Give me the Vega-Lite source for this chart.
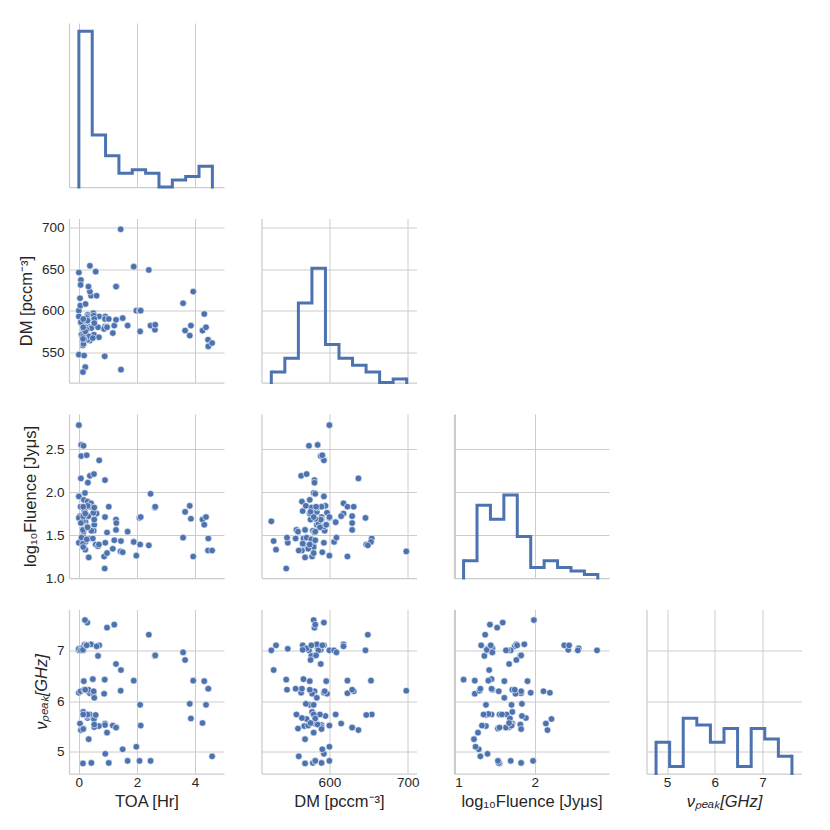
{
  "$schema": "https://vega.github.io/schema/vega-lite/v6.json",
  "padding": {"left": 18, "top": 20, "right": 5, "bottom": 5},
  "background": "#ffffff",
  "config": {
    "view": {"stroke": null},
    "font": "Liberation Sans",
    "axis": {
      "grid": true, "gridColor": "#cccccc", "gridWidth": 1,
      "domainColor": "#cccccc", "domainWidth": 1.25, "ticks": false,
      "labelColor": "#262626", "labelFontSize": 13.5, "labelPadding": 5,
      "titleColor": "#262626", "titleFontSize": 16.5, "titleFontWeight": "normal", "titlePadding": 5
    },
    "axisX": {"labelPadding": 2, "titlePadding": 4},
    "axisY": {"titlePadding": 7}
  },
  "datasets": {
    "frb": [
      {"TOA": 0, "DM": 600, "Fluence": 2.78, "nu": 7.01},
      {"TOA": 0.08, "DM": 585, "Fluence": 2.55, "nu": 7.05},
      {"TOA": 0.16, "DM": 574, "Fluence": 2.54, "nu": 7.01},
      {"TOA": 0.08, "DM": 589, "Fluence": 2.42, "nu": 7.02},
      {"TOA": 0.70, "DM": 593, "Fluence": 2.37, "nu": 7.11},
      {"TOA": 0.07, "DM": 637, "Fluence": 2.16, "nu": 5.43},
      {"TOA": 0.38, "DM": 564, "Fluence": 2.19, "nu": 6.17},
      {"TOA": 0.52, "DM": 571, "Fluence": 2.21, "nu": 5.65},
      {"TOA": 0.90, "DM": 581, "Fluence": 2.14, "nu": 5.56},
      {"TOA": 0.31, "DM": 581, "Fluence": 2.11, "nu": 6.20},
      {"TOA": 0, "DM": 593, "Fluence": 1.95, "nu": 6.17},
      {"TOA": 0.17, "DM": 575, "Fluence": 1.91, "nu": 6.40},
      {"TOA": 0.30, "DM": 565, "Fluence": 1.89, "nu": 5.67},
      {"TOA": 0.42, "DM": 618, "Fluence": 1.87, "nu": 7.13},
      {"TOA": 0.38, "DM": 623, "Fluence": 1.83, "nu": 6.16},
      {"TOA": 0.06, "DM": 631, "Fluence": 1.83, "nu": 6.20},
      {"TOA": 0.33, "DM": 629, "Fluence": 1.72, "nu": 6.23},
      {"TOA": 0.61, "DM": 618, "Fluence": 1.75, "nu": 7.09},
      {"TOA": 0.04, "DM": 615, "Fluence": 1.72, "nu": 5.56},
      {"TOA": 0.05, "DM": 606, "Fluence": 1.42, "nu": 7.01},
      {"TOA": 0.23, "DM": 608, "Fluence": 1.65, "nu": 5.74},
      {"TOA": 0.50, "DM": 597, "Fluence": 1.76, "nu": 6.15},
      {"TOA": 0.30, "DM": 595, "Fluence": 1.84, "nu": 5.71},
      {"TOA": 0.91, "DM": 593, "Fluence": 1.41, "nu": 4.96},
      {"TOA": 0.90, "DM": 590, "Fluence": 1.71, "nu": 5.53},
      {"TOA": 0.87, "DM": 578, "Fluence": 1.25, "nu": 6.15},
      {"TOA": 0.89, "DM": 545, "Fluence": 1.11, "nu": 6.43},
      {"TOA": 0, "DM": 646, "Fluence": 1.70, "nu": 7.01},
      {"TOA": 0.38, "DM": 654, "Fluence": 1.46, "nu": 5.74},
      {"TOA": 0.58, "DM": 647, "Fluence": 1.39, "nu": 5.73},
      {"TOA": 0.53, "DM": 584, "Fluence": 1.62, "nu": 6.07},
      {"TOA": 0.20, "DM": 584, "Fluence": 1.77, "nu": 7.13},
      {"TOA": 0.66, "DM": 580, "Fluence": 1.37, "nu": 6.90},
      {"TOA": 0.34, "DM": 569, "Fluence": 1.24, "nu": 5.25},
      {"TOA": 0.69, "DM": 568, "Fluence": 1.39, "nu": 5.51},
      {"TOA": 0, "DM": 547, "Fluence": 1.41, "nu": 7.04},
      {"TOA": 0.18, "DM": 546, "Fluence": 1.47, "nu": 6.23},
      {"TOA": 0.22, "DM": 532, "Fluence": 1.33, "nu": 7.11},
      {"TOA": 0.14, "DM": 526, "Fluence": 1.66, "nu": 7.01},
      {"TOA": 0.14, "DM": 558, "Fluence": 1.56, "nu": 5.74},
      {"TOA": 0.16, "DM": 560, "Fluence": 1.54, "nu": 5.46},
      {"TOA": 0.19, "DM": 566, "Fluence": 1.78, "nu": 7.11},
      {"TOA": 0.48, "DM": 567, "Fluence": 1.46, "nu": 6.44},
      {"TOA": 0.09, "DM": 571, "Fluence": 1.47, "nu": 7.05},
      {"TOA": 0.14, "DM": 569, "Fluence": 1.56, "nu": 4.77},
      {"TOA": 0.51, "DM": 594, "Fluence": 1.55, "nu": 6.20},
      {"TOA": 0.29, "DM": 593, "Fluence": 1.60, "nu": 7.56},
      {"TOA": 0.53, "DM": 590, "Fluence": 1.68, "nu": 5.49},
      {"TOA": 0.07, "DM": 586, "Fluence": 1.64, "nu": 7.01},
      {"TOA": 0.21, "DM": 580, "Fluence": 1.99, "nu": 7.61},
      {"TOA": 0.23, "DM": 580, "Fluence": 1.42, "nu": 5.75},
      {"TOA": 0.14, "DM": 566, "Fluence": 1.40, "nu": 7.02},
      {"TOA": 0.43, "DM": 579, "Fluence": 1.55, "nu": 4.78},
      {"TOA": 0.27, "DM": 591, "Fluence": 2.43, "nu": 7.11},
      {"TOA": 0.15, "DM": 578, "Fluence": 1.72, "nu": 5.79},
      {"TOA": 0.30, "DM": 588, "Fluence": 1.59, "nu": 5.74},
      {"TOA": 0.53, "DM": 585, "Fluence": 1.82, "nu": 5.54},
      {"TOA": 0.15, "DM": 590, "Fluence": 1.83, "nu": 5.45},
      {"TOA": 0.27, "DM": 577, "Fluence": 1.45, "nu": 7.11},
      {"TOA": 0.22, "DM": 575, "Fluence": 1.75, "nu": 6.23},
      {"TOA": 0.15, "DM": 580, "Fluence": 1.36, "nu": 5.74},
      {"TOA": 0.97, "DM": 581, "Fluence": 1.53, "nu": 7.46},
      {"TOA": 0.97, "DM": 580, "Fluence": 1.29, "nu": 5.38},
      {"TOA": 1.03, "DM": 590, "Fluence": 1.83, "nu": 4.78},
      {"TOA": 1.17, "DM": 573, "Fluence": 1.34, "nu": 5.52},
      {"TOA": 1.22, "DM": 582, "Fluence": 1.44, "nu": 7.52},
      {"TOA": 1.28, "DM": 589, "Fluence": 1.68, "nu": 6.74},
      {"TOA": 1.29, "DM": 629, "Fluence": 1.64, "nu": 5.48},
      {"TOA": 1.28, "DM": 629, "Fluence": 1.56, "nu": 5.48},
      {"TOA": 1.44, "DM": 698, "Fluence": 1.31, "nu": 6.21},
      {"TOA": 1.45, "DM": 529, "Fluence": 1.43, "nu": 6.62},
      {"TOA": 1.51, "DM": 591, "Fluence": 1.30, "nu": 5.05},
      {"TOA": 1.68, "DM": 582, "Fluence": 1.54, "nu": 4.82},
      {"TOA": 1.89, "DM": 653, "Fluence": 1.42, "nu": 6.41},
      {"TOA": 1.98, "DM": 600, "Fluence": 1.26, "nu": 5.10},
      {"TOA": 2.09, "DM": 600, "Fluence": 1.70, "nu": 4.82},
      {"TOA": 2.11, "DM": 575, "Fluence": 1.39, "nu": 5.93},
      {"TOA": 2.13, "DM": 600, "Fluence": 1.71, "nu": 5.52},
      {"TOA": 2.41, "DM": 649, "Fluence": 1.38, "nu": 7.32},
      {"TOA": 2.47, "DM": 582, "Fluence": 1.98, "nu": 4.82},
      {"TOA": 2.62, "DM": 577, "Fluence": 1.82, "nu": 6.90},
      {"TOA": 2.63, "DM": 583, "Fluence": 1.83, "nu": 6.91},
      {"TOA": 3.59, "DM": 609, "Fluence": 1.47, "nu": 6.97},
      {"TOA": 3.66, "DM": 576, "Fluence": 1.77, "nu": 6.82},
      {"TOA": 3.82, "DM": 570, "Fluence": 1.84, "nu": 5.95},
      {"TOA": 3.86, "DM": 582, "Fluence": 1.69, "nu": 5.66},
      {"TOA": 3.94, "DM": 623, "Fluence": 1.25, "nu": 6.41},
      {"TOA": 4.26, "DM": 576, "Fluence": 1.68, "nu": 5.57},
      {"TOA": 4.32, "DM": 596, "Fluence": 1.62, "nu": 6.40},
      {"TOA": 4.38, "DM": 580, "Fluence": 1.71, "nu": 5.93},
      {"TOA": 4.45, "DM": 565, "Fluence": 1.32, "nu": 6.25},
      {"TOA": 4.46, "DM": 557, "Fluence": 1.46, "nu": 6.25},
      {"TOA": 4.59, "DM": 561, "Fluence": 1.32, "nu": 4.91}
    ],
    "hist": [
      {"var": "TOA", "lo": 0, "hi": 0.46, "n": 45},
      {"var": "TOA", "lo": 0.46, "hi": 0.92, "n": 15},
      {"var": "TOA", "lo": 0.92, "hi": 1.38, "n": 9},
      {"var": "TOA", "lo": 1.38, "hi": 1.84, "n": 4},
      {"var": "TOA", "lo": 1.84, "hi": 2.3, "n": 5},
      {"var": "TOA", "lo": 2.3, "hi": 2.76, "n": 4},
      {"var": "TOA", "lo": 2.76, "hi": 3.22, "n": 0},
      {"var": "TOA", "lo": 3.22, "hi": 3.68, "n": 2},
      {"var": "TOA", "lo": 3.68, "hi": 4.14, "n": 3},
      {"var": "TOA", "lo": 4.14, "hi": 4.6, "n": 6},
      {"var": "DM", "lo": 526, "hi": 543.25, "n": 3},
      {"var": "DM", "lo": 543.25, "hi": 560.5, "n": 7},
      {"var": "DM", "lo": 560.5, "hi": 577.75, "n": 23},
      {"var": "DM", "lo": 577.75, "hi": 595, "n": 33},
      {"var": "DM", "lo": 595, "hi": 612.25, "n": 11},
      {"var": "DM", "lo": 612.25, "hi": 629.5, "n": 7},
      {"var": "DM", "lo": 629.5, "hi": 646.75, "n": 5},
      {"var": "DM", "lo": 646.75, "hi": 664, "n": 3},
      {"var": "DM", "lo": 664, "hi": 681.25, "n": 0},
      {"var": "DM", "lo": 681.25, "hi": 698.5, "n": 1},
      {"var": "Fluence", "lo": 1.11, "hi": 1.278, "n": 5},
      {"var": "Fluence", "lo": 1.278, "hi": 1.446, "n": 21},
      {"var": "Fluence", "lo": 1.446, "hi": 1.614, "n": 17},
      {"var": "Fluence", "lo": 1.614, "hi": 1.782, "n": 24},
      {"var": "Fluence", "lo": 1.782, "hi": 1.95, "n": 12},
      {"var": "Fluence", "lo": 1.95, "hi": 2.118, "n": 3},
      {"var": "Fluence", "lo": 2.118, "hi": 2.286, "n": 5},
      {"var": "Fluence", "lo": 2.286, "hi": 2.454, "n": 3},
      {"var": "Fluence", "lo": 2.454, "hi": 2.622, "n": 2},
      {"var": "Fluence", "lo": 2.622, "hi": 2.79, "n": 1},
      {"var": "nu", "lo": 4.77, "hi": 5.055, "n": 9},
      {"var": "nu", "lo": 5.055, "hi": 5.34, "n": 2},
      {"var": "nu", "lo": 5.34, "hi": 5.625, "n": 16},
      {"var": "nu", "lo": 5.625, "hi": 5.91, "n": 14},
      {"var": "nu", "lo": 5.91, "hi": 6.195, "n": 9},
      {"var": "nu", "lo": 6.195, "hi": 6.48, "n": 13},
      {"var": "nu", "lo": 6.48, "hi": 6.765, "n": 2},
      {"var": "nu", "lo": 6.765, "hi": 7.05, "n": 13},
      {"var": "nu", "lo": 7.05, "hi": 7.335, "n": 10},
      {"var": "nu", "lo": 7.335, "hi": 7.62, "n": 5}
    ]
  },
  "columns": 4,
  "bounds": "flush",
  "spacing": {"row": 31.5, "column": 37.5},
  "concat": [
    {
      "width": 155, "height": 164,
      "layer": [
        {
          "data": {"name": "hist"},
          "transform": [{"filter": {"field": "var", "equal": "TOA"}}, {"fold": ["lo", "hi"], "as": ["edge", "x"]}],
          "mark": {"type": "line", "color": "#4c72b0", "strokeWidth": 3, "strokeJoin": "miter"},
          "encoding": {
            "x": {"field": "x", "type": "quantitative", "scale": {"domain": [-0.34, 5.0], "nice": false, "zero": false}, "axis": {"values": [0, 2, 4], "labels": false, "title": null}},
            "y": {"field": "n", "type": "quantitative", "scale": {"domain": [0, 47.4], "nice": false}, "axis": {"labels": false, "grid": false, "title": null}},
            "order": [{"field": "x", "type": "quantitative"}, {"field": "edge", "type": "nominal"}]
          }
        },
        {
          "data": {"name": "hist"},
          "transform": [{"filter": {"field": "var", "equal": "TOA"}}, {"filter": {"field": "lo", "equal": 0}}],
          "mark": {"type": "rule", "color": "#4c72b0", "strokeWidth": 3, "strokeCap": "square"},
          "encoding": {
            "x": {"field": "lo", "type": "quantitative", "scale": {"domain": [-0.34, 5.0], "nice": false, "zero": false}, "axis": {"values": [0, 2, 4], "labels": false, "title": null}},
            "y": {"field": "n", "type": "quantitative", "scale": {"domain": [0, 47.4], "nice": false}, "axis": {"labels": false, "grid": false, "title": null}},
            "y2": {"datum": 0}
          }
        },
        {
          "data": {"name": "hist"},
          "transform": [{"filter": {"field": "var", "equal": "TOA"}}, {"filter": {"field": "hi", "equal": 4.6}}],
          "mark": {"type": "rule", "color": "#4c72b0", "strokeWidth": 3, "strokeCap": "square"},
          "encoding": {
            "x": {"field": "hi", "type": "quantitative", "scale": {"domain": [-0.34, 5.0], "nice": false, "zero": false}, "axis": {"values": [0, 2, 4], "labels": false, "title": null}},
            "y": {"field": "n", "type": "quantitative", "scale": {"domain": [0, 47.4], "nice": false}, "axis": {"labels": false, "grid": false, "title": null}},
            "y2": {"datum": 0}
          }
        }
      ]
    },
    {"width": 155, "height": 164, "data": {"name": "frb"}, "mark": {"type": "point", "opacity": 0}, "encoding": {"x": {"field": "TOA", "type": "quantitative", "axis": null}, "y": {"field": "DM", "type": "quantitative", "axis": null}}},
    {"width": 155, "height": 164, "data": {"name": "frb"}, "mark": {"type": "point", "opacity": 0}, "encoding": {"x": {"field": "TOA", "type": "quantitative", "axis": null}, "y": {"field": "DM", "type": "quantitative", "axis": null}}},
    {"width": 155, "height": 164, "data": {"name": "frb"}, "mark": {"type": "point", "opacity": 0}, "encoding": {"x": {"field": "TOA", "type": "quantitative", "axis": null}, "y": {"field": "DM", "type": "quantitative", "axis": null}}},

    {
      "width": 155, "height": 164, "data": {"name": "frb"},
      "mark": {"type": "circle", "size": 44, "color": "#4c72b0", "opacity": 1, "stroke": "#ffffff", "strokeWidth": 0.6},
      "encoding": {
        "x": {"field": "TOA", "type": "quantitative", "scale": {"domain": [-0.34, 5.0], "nice": false, "zero": false}, "axis": {"values": [0, 2, 4], "labels": false, "title": null}},
        "y": {"field": "DM", "type": "quantitative", "scale": {"domain": [513.5, 711], "nice": false, "zero": false}, "axis": {"values": [550, 600, 650, 700], "title": "DM [pccm⁻³]"}}
      }
    },
    {
      "width": 155, "height": 164,
      "layer": [
        {
          "data": {"name": "frb"},
          "mark": {"type": "point", "opacity": 0},
          "encoding": {
            "x": {"field": "DM", "type": "quantitative", "scale": {"domain": [513.5, 711], "nice": false, "zero": false}, "axis": {"values": [600, 700], "labels": false, "title": null}},
            "y": {"field": "DM", "type": "quantitative", "scale": {"domain": [513.5, 711], "nice": false, "zero": false}, "axis": {"values": [550, 600, 650, 700], "labels": false, "title": null}}
          }
        },
        {
          "data": {"name": "hist"},
          "transform": [{"filter": {"field": "var", "equal": "DM"}}, {"fold": ["lo", "hi"], "as": ["edge", "x"]}],
          "mark": {"type": "line", "color": "#4c72b0", "strokeWidth": 3, "strokeJoin": "miter"},
          "encoding": {
            "x": {"field": "x", "type": "quantitative", "scale": {"domain": [513.5, 711], "nice": false, "zero": false}, "axis": {"values": [600, 700], "labels": false, "title": null}},
            "y": {"field": "n", "type": "quantitative", "scale": {"domain": [0, 47.4], "nice": false}, "axis": null},
            "order": [{"field": "x", "type": "quantitative"}, {"field": "edge", "type": "nominal"}]
          }
        },
        {
          "data": {"name": "hist"},
          "transform": [{"filter": {"field": "var", "equal": "DM"}}, {"filter": {"field": "lo", "equal": 526}}],
          "mark": {"type": "rule", "color": "#4c72b0", "strokeWidth": 3, "strokeCap": "square"},
          "encoding": {
            "x": {"field": "lo", "type": "quantitative", "scale": {"domain": [513.5, 711], "nice": false, "zero": false}, "axis": {"values": [600, 700], "labels": false, "title": null}},
            "y": {"field": "n", "type": "quantitative", "scale": {"domain": [0, 47.4], "nice": false}, "axis": null},
            "y2": {"datum": 0}
          }
        },
        {
          "data": {"name": "hist"},
          "transform": [{"filter": {"field": "var", "equal": "DM"}}, {"filter": {"field": "hi", "equal": 698.5}}],
          "mark": {"type": "rule", "color": "#4c72b0", "strokeWidth": 3, "strokeCap": "square"},
          "encoding": {
            "x": {"field": "hi", "type": "quantitative", "scale": {"domain": [513.5, 711], "nice": false, "zero": false}, "axis": {"values": [600, 700], "labels": false, "title": null}},
            "y": {"field": "n", "type": "quantitative", "scale": {"domain": [0, 47.4], "nice": false}, "axis": null},
            "y2": {"datum": 0}
          }
        }
      ],
      "resolve": {"scale": {"y": "independent"}}
    },
    {"width": 155, "height": 164, "data": {"name": "frb"}, "mark": {"type": "point", "opacity": 0}, "encoding": {"x": {"field": "TOA", "type": "quantitative", "axis": null}, "y": {"field": "DM", "type": "quantitative", "axis": null}}},
    {"width": 155, "height": 164, "data": {"name": "frb"}, "mark": {"type": "point", "opacity": 0}, "encoding": {"x": {"field": "TOA", "type": "quantitative", "axis": null}, "y": {"field": "DM", "type": "quantitative", "axis": null}}},

    {
      "width": 155, "height": 164, "data": {"name": "frb"},
      "mark": {"type": "circle", "size": 44, "color": "#4c72b0", "opacity": 1, "stroke": "#ffffff", "strokeWidth": 0.6},
      "encoding": {
        "x": {"field": "TOA", "type": "quantitative", "scale": {"domain": [-0.34, 5.0], "nice": false, "zero": false}, "axis": {"values": [0, 2, 4], "labels": false, "title": null}},
        "y": {"field": "Fluence", "type": "quantitative", "scale": {"domain": [1.0, 2.91], "nice": false, "zero": false}, "axis": {"values": [1, 1.5, 2, 2.5], "format": ".1f", "title": "log₁₀Fluence [Jyμs]"}}
      }
    },
    {
      "width": 155, "height": 164, "data": {"name": "frb"},
      "mark": {"type": "circle", "size": 44, "color": "#4c72b0", "opacity": 1, "stroke": "#ffffff", "strokeWidth": 0.6},
      "encoding": {
        "x": {"field": "DM", "type": "quantitative", "scale": {"domain": [513.5, 711], "nice": false, "zero": false}, "axis": {"values": [600, 700], "labels": false, "title": null}},
        "y": {"field": "Fluence", "type": "quantitative", "scale": {"domain": [1.0, 2.91], "nice": false, "zero": false}, "axis": {"values": [1, 1.5, 2, 2.5], "labels": false, "title": null}}
      }
    },
    {
      "width": 155, "height": 164,
      "layer": [
        {
          "data": {"name": "frb"},
          "mark": {"type": "point", "opacity": 0},
          "encoding": {
            "x": {"field": "Fluence", "type": "quantitative", "scale": {"domain": [0.99, 2.93], "nice": false, "zero": false}, "axis": {"values": [1, 2], "labels": false, "title": null}},
            "y": {"field": "Fluence", "type": "quantitative", "scale": {"domain": [1.0, 2.91], "nice": false, "zero": false}, "axis": {"values": [1, 1.5, 2, 2.5], "labels": false, "title": null}}
          }
        },
        {
          "data": {"name": "hist"},
          "transform": [{"filter": {"field": "var", "equal": "Fluence"}}, {"fold": ["lo", "hi"], "as": ["edge", "x"]}],
          "mark": {"type": "line", "color": "#4c72b0", "strokeWidth": 3, "strokeJoin": "miter"},
          "encoding": {
            "x": {"field": "x", "type": "quantitative", "scale": {"domain": [0.99, 2.93], "nice": false, "zero": false}, "axis": {"values": [1, 2], "labels": false, "title": null}},
            "y": {"field": "n", "type": "quantitative", "scale": {"domain": [0, 47.4], "nice": false}, "axis": null},
            "order": [{"field": "x", "type": "quantitative"}, {"field": "edge", "type": "nominal"}]
          }
        },
        {
          "data": {"name": "hist"},
          "transform": [{"filter": {"field": "var", "equal": "Fluence"}}, {"filter": {"field": "lo", "equal": 1.11}}],
          "mark": {"type": "rule", "color": "#4c72b0", "strokeWidth": 3, "strokeCap": "square"},
          "encoding": {
            "x": {"field": "lo", "type": "quantitative", "scale": {"domain": [0.99, 2.93], "nice": false, "zero": false}, "axis": {"values": [1, 2], "labels": false, "title": null}},
            "y": {"field": "n", "type": "quantitative", "scale": {"domain": [0, 47.4], "nice": false}, "axis": null},
            "y2": {"datum": 0}
          }
        },
        {
          "data": {"name": "hist"},
          "transform": [{"filter": {"field": "var", "equal": "Fluence"}}, {"filter": {"field": "hi", "equal": 2.79}}],
          "mark": {"type": "rule", "color": "#4c72b0", "strokeWidth": 3, "strokeCap": "square"},
          "encoding": {
            "x": {"field": "hi", "type": "quantitative", "scale": {"domain": [0.99, 2.93], "nice": false, "zero": false}, "axis": {"values": [1, 2], "labels": false, "title": null}},
            "y": {"field": "n", "type": "quantitative", "scale": {"domain": [0, 47.4], "nice": false}, "axis": null},
            "y2": {"datum": 0}
          }
        }
      ],
      "resolve": {"scale": {"y": "independent"}}
    },
    {"width": 155, "height": 164, "data": {"name": "frb"}, "mark": {"type": "point", "opacity": 0}, "encoding": {"x": {"field": "TOA", "type": "quantitative", "axis": null}, "y": {"field": "DM", "type": "quantitative", "axis": null}}},

    {
      "width": 155, "height": 164, "data": {"name": "frb"},
      "mark": {"type": "circle", "size": 44, "color": "#4c72b0", "opacity": 1, "stroke": "#ffffff", "strokeWidth": 0.6},
      "encoding": {
        "x": {"field": "TOA", "type": "quantitative", "scale": {"domain": [-0.34, 5.0], "nice": false, "zero": false}, "axis": {"values": [0, 2, 4], "title": "TOA [Hr]"}},
        "y": {"field": "nu", "type": "quantitative", "scale": {"domain": [4.57, 7.82], "nice": false, "zero": false}, "axis": {"values": [5, 6, 7], "title": "νₚₑₐₖ[GHz]", "titleFontStyle": "italic"}}
      }
    },
    {
      "width": 155, "height": 164, "data": {"name": "frb"},
      "mark": {"type": "circle", "size": 44, "color": "#4c72b0", "opacity": 1, "stroke": "#ffffff", "strokeWidth": 0.6},
      "encoding": {
        "x": {"field": "DM", "type": "quantitative", "scale": {"domain": [513.5, 711], "nice": false, "zero": false}, "axis": {"values": [600, 700], "title": "DM [pccm⁻³]"}},
        "y": {"field": "nu", "type": "quantitative", "scale": {"domain": [4.57, 7.82], "nice": false, "zero": false}, "axis": {"values": [5, 6, 7], "labels": false, "title": null}}
      }
    },
    {
      "width": 155, "height": 164, "data": {"name": "frb"},
      "mark": {"type": "circle", "size": 44, "color": "#4c72b0", "opacity": 1, "stroke": "#ffffff", "strokeWidth": 0.6},
      "encoding": {
        "x": {"field": "Fluence", "type": "quantitative", "scale": {"domain": [0.99, 2.93], "nice": false, "zero": false}, "axis": {"values": [1, 2], "title": "log₁₀Fluence [Jyμs]"}},
        "y": {"field": "nu", "type": "quantitative", "scale": {"domain": [4.57, 7.82], "nice": false, "zero": false}, "axis": {"values": [5, 6, 7], "labels": false, "title": null}}
      }
    },
    {
      "width": 155, "height": 164,
      "layer": [
        {
          "data": {"name": "frb"},
          "mark": {"type": "point", "opacity": 0},
          "encoding": {
            "x": {"field": "nu", "type": "quantitative", "scale": {"domain": [4.57, 7.82], "nice": false, "zero": false}, "axis": {"values": [5, 6, 7], "title": "νₚₑₐₖ[GHz]", "titleFontStyle": "italic"}},
            "y": {"field": "nu", "type": "quantitative", "scale": {"domain": [4.57, 7.82], "nice": false, "zero": false}, "axis": {"values": [5, 6, 7], "labels": false, "title": null}}
          }
        },
        {
          "data": {"name": "hist"},
          "transform": [{"filter": {"field": "var", "equal": "nu"}}, {"fold": ["lo", "hi"], "as": ["edge", "x"]}],
          "mark": {"type": "line", "color": "#4c72b0", "strokeWidth": 3, "strokeJoin": "miter"},
          "encoding": {
            "x": {"field": "x", "type": "quantitative", "scale": {"domain": [4.57, 7.82], "nice": false, "zero": false}, "axis": {"values": [5, 6, 7], "title": "νₚₑₐₖ[GHz]", "titleFontStyle": "italic"}},
            "y": {"field": "n", "type": "quantitative", "scale": {"domain": [0, 47.4], "nice": false}, "axis": null},
            "order": [{"field": "x", "type": "quantitative"}, {"field": "edge", "type": "nominal"}]
          }
        },
        {
          "data": {"name": "hist"},
          "transform": [{"filter": {"field": "var", "equal": "nu"}}, {"filter": {"field": "lo", "equal": 4.77}}],
          "mark": {"type": "rule", "color": "#4c72b0", "strokeWidth": 3, "strokeCap": "square"},
          "encoding": {
            "x": {"field": "lo", "type": "quantitative", "scale": {"domain": [4.57, 7.82], "nice": false, "zero": false}, "axis": {"values": [5, 6, 7], "title": "νₚₑₐₖ[GHz]", "titleFontStyle": "italic"}},
            "y": {"field": "n", "type": "quantitative", "scale": {"domain": [0, 47.4], "nice": false}, "axis": null},
            "y2": {"datum": 0}
          }
        },
        {
          "data": {"name": "hist"},
          "transform": [{"filter": {"field": "var", "equal": "nu"}}, {"filter": {"field": "hi", "equal": 7.62}}],
          "mark": {"type": "rule", "color": "#4c72b0", "strokeWidth": 3, "strokeCap": "square"},
          "encoding": {
            "x": {"field": "hi", "type": "quantitative", "scale": {"domain": [4.57, 7.82], "nice": false, "zero": false}, "axis": {"values": [5, 6, 7], "title": "νₚₑₐₖ[GHz]", "titleFontStyle": "italic"}},
            "y": {"field": "n", "type": "quantitative", "scale": {"domain": [0, 47.4], "nice": false}, "axis": null},
            "y2": {"datum": 0}
          }
        }
      ],
      "resolve": {"scale": {"y": "independent"}}
    }
  ]
}
